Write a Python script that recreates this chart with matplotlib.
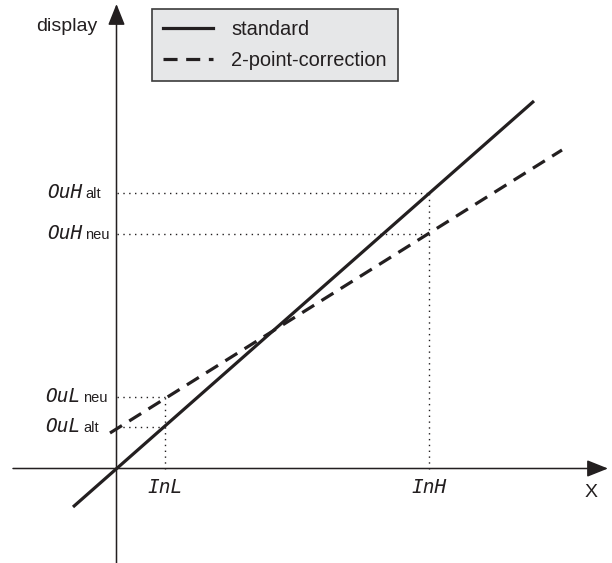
import matplotlib
matplotlib.use("Agg")
import matplotlib.pyplot as plt
from matplotlib.lines import Line2D

# ---- data (schematic units) ----
in_names = ["InL", "InH"]
in_values = [4.85, 31.25]
out_alt = [4.15, 27.55]      # OuL alt, OuH alt (standard)
out_neu = [7.15, 23.45]      # OuL neu, OuH neu (2-point-correction)
out_names = ["OuL", "OuH"]
standard_x = [-4.35, 41.75]
standard_y = [-3.85, 36.75]
correction_x = [-0.65, 44.55]
correction_y = [3.55, 31.85]
legend_labels = ["standard", "2-point-correction"]

INK = "#231f20"
plt.rcParams['font.family'] = ['Liberation Sans', 'DejaVu Sans']

fig = plt.figure(figsize=(6.12, 5.63), dpi=100)
ax = fig.add_axes([0, 0, 1, 1])
ax.set_xlim(-11.65, 49.55)
ax.set_ylim(-9.45, 46.85)
ax.axis('off')

# axes with arrows
arrow_style = '-|>,head_length=1.3,head_width=0.52'
ax.annotate('', xy=(0, 46.45), xytext=(0, -9.8),
            arrowprops=dict(arrowstyle=arrow_style, mutation_scale=10, lw=1.1,
                            color=INK, shrinkA=0, shrinkB=0))
ax.annotate('', xy=(49.15, 0), xytext=(-10.35, 0),
            arrowprops=dict(arrowstyle=arrow_style, mutation_scale=10, lw=1.1,
                            color=INK, shrinkA=0, shrinkB=0))

# dotted guide lines
dot_kw = dict(color=INK, lw=1.0, dashes=(1, 3.2), dash_capstyle='butt')
for xv, ya, yn in zip(in_values, out_alt, out_neu):
    ax.plot([0, xv], [ya, ya], **dot_kw)
    ax.plot([0, xv], [yn, yn], **dot_kw)
    ax.plot([xv, xv], [0, max(ya, yn)], **dot_kw)

# main lines
lw_main = 2.3
dash_pat = (4.4, 2.7)
ax.plot(standard_x, standard_y, color=INK, lw=lw_main, solid_capstyle='butt')
ax.plot(correction_x, correction_y, color=INK, lw=lw_main, dashes=dash_pat,
        dash_capstyle='butt')

# y labels (seven-segment style)
seg_font = dict(family='DejaVu Sans Mono', style='italic', fontsize=14, color=INK)
sub_font = dict(family='Liberation Sans', fontsize=10.5, color=INK)
for name, ya, yn in zip(out_names, out_alt, out_neu):
    for val, sub in ((ya, 'alt'), (yn, 'neu')):
        right = -24.6 if name == 'OuH' else -26.2
        left = -22.4 if name == 'OuH' else -24.2
        ax.annotate(name, xy=(0, val), xytext=(right, -3.8), textcoords='offset points',
                    ha='right', va='baseline', **seg_font)
        ax.annotate(sub, xy=(0, val), xytext=(left, -3.8), textcoords='offset points',
                    ha='left', va='baseline', **sub_font)

for name, xv in zip(in_names, in_values):
    ax.annotate(name, xy=(xv, 0), xytext=(0, -17.6), textcoords='offset points',
                ha='center', va='baseline', **seg_font)

# axis titles
ax.text(-1.95, 43.75, 'display', ha='right', va='baseline', fontsize=14, color=INK)
ax.text(47.45, -2.85, 'X', ha='center', va='baseline', fontsize=14, color=INK)

# legend
handles = [Line2D([], [], color=INK, lw=lw_main),
           Line2D([], [], color=INK, lw=lw_main, dashes=dash_pat)]
leg = ax.legend(handles, legend_labels, loc='upper left',
                bbox_to_anchor=(152 / 612, 1 - 9 / 563), bbox_transform=fig.transFigure,
                borderaxespad=0, fontsize=14.4, handlelength=2.5, handletextpad=0.9,
                labelspacing=0.62, borderpad=0.55, fancybox=False, framealpha=1)
frame = leg.get_frame()
frame.set_facecolor('#e6e7e8')
frame.set_edgecolor('#3c3c3c')
frame.set_linewidth(1.2)
for t in leg.get_texts():
    t.set_color(INK)

fig.savefig('out.png', dpi=100)
